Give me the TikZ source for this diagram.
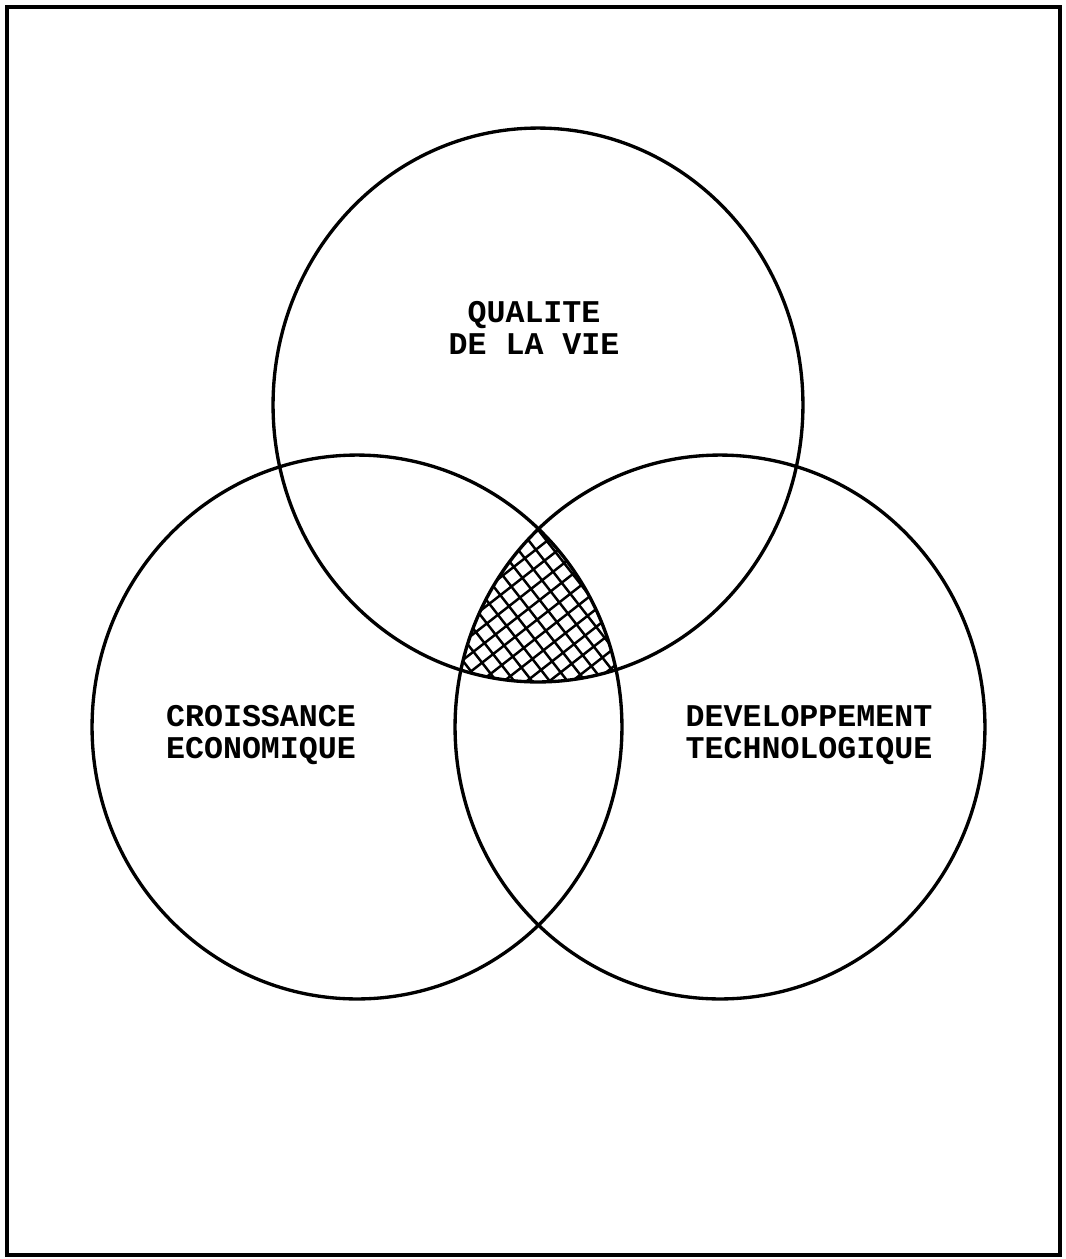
\documentclass[tikz,border=0pt]{standalone}
\usepackage{fontspec}
\setmonofont{Liberation Mono}
\begin{document}
\begin{tikzpicture}[x=0.02cm, y=-0.02cm,
  ring/.style={line width=1.9pt},
  label/.style={align=center, font=\ttfamily\bfseries\fontsize{18pt}{18pt}\selectfont, inner sep=0pt}]
\useasboundingbox (0,0) rectangle (1066,1259);
\draw[line width=1.9pt] (7,7) rectangle (1060,1255);

\coordinate (qual) at (538,405);
\coordinate (crois) at (357,727);
\coordinate (devel) at (720,727);

\begin{scope}
\clip (qual) ellipse [x radius=5.3cm, y radius=5.54cm];
\clip (crois) ellipse [x radius=5.3cm, y radius=5.44cm];
\clip (devel) ellipse [x radius=5.3cm, y radius=5.44cm];
\draw[line width=1.4pt, rotate around={38:(540,610)}, step=0.28cm] (300,350) grid (780,870);
\end{scope}

\draw[ring] (qual) ellipse [x radius=5.3cm, y radius=5.54cm];
\draw[ring] (crois) ellipse [x radius=5.3cm, y radius=5.44cm];
\draw[ring] (devel) ellipse [x radius=5.3cm, y radius=5.44cm];

\node (qualtxt) [label] at (534,328) {QUALITE\\DE LA VIE};
\node (croistxt) [label] at (261,735) {CROISSANCE\\ECONOMIQUE};
\node (develtxt) [label] at (809,735) {DEVELOPPEMENT\\TECHNOLOGIQUE};
\end{tikzpicture}
\end{document}
